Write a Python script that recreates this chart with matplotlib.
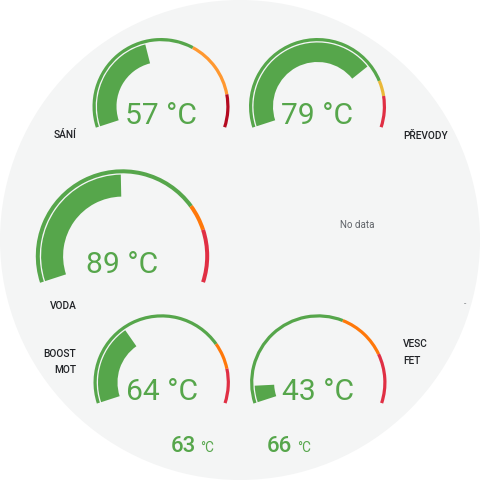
import matplotlib
matplotlib.use('Agg')
import matplotlib.pyplot as plt
from matplotlib.patches import Wedge, Circle

plt.rcParams['font.family'] = ['Roboto', 'DejaVu Sans']

# ---------------- data ----------------
gauge_labels = ['SÁNÍ', 'PŘEVODY', 'VODA', 'BOOST\nMOT', 'VESC\nFET']
gauge_values = [57, 79, 89, 64, 43]
gauge_min = [24, 20, 0, 20, 36]
gauge_max = [100, 100, 180, 150, 136]
threshold_steps = [[72, 90], [85, 90], [135, 150], [118, 132], [96, 116]]
threshold_colors = [
    ['#56A64B', '#FF9830', '#B40A20'],
    ['#56A64B', '#EAB839', '#E02F44'],
    ['#56A64B', '#FF780A', '#E02F44'],
    ['#56A64B', '#FF780A', '#E02F44'],
    ['#56A64B', '#FF780A', '#E02F44'],
]
unit = '°C'
stat_values = [63, 66]
no_data_text = 'No data'

# ---------------- layout (pixels, y down) ----------------
W = H = 480
centers = [(161, 106.5), (317.5, 106.5), (122.5, 256), (161.7, 382.5), (318.3, 382.5)]
radii = [68.5, 68.5, 86.7, 68.2, 68.2]
ring_w = [3.2, 3.2, 4.0, 3.2, 3.2]
bar_w = [19.5, 19.5, 22, 19.5, 19.5]
gap = 1.3
A0, SPAN = 198.0, 216.0

GREEN = '#56A64B'
BG = '#F4F5F5'
TXT = '#202226'

fig = plt.figure(figsize=(4.8, 4.8), dpi=100)
ax = fig.add_axes([0, 0, 1, 1])
ax.set_xlim(0, W)
ax.set_ylim(0, H)
ax.set_aspect('equal')
ax.axis('off')

def Y(y):
    return H - y

ax.add_patch(Circle((240, Y(240)), 240, color=BG, lw=0))

def ang(v, lo, hi):
    f = (v - lo) / (hi - lo)
    f = min(max(f, 0), 1)
    return A0 - SPAN * f

for i in range(len(gauge_values)):
    cx, cy = centers[i]
    c = (cx, Y(cy))
    lo, hi = gauge_min[i], gauge_max[i]
    r = radii[i]
    bounds = [lo] + threshold_steps[i] + [hi]
    for k in range(len(bounds) - 1):
        t1 = ang(bounds[k + 1], lo, hi)
        t2 = ang(bounds[k], lo, hi)
        ax.add_patch(Wedge(c, r, t1, t2, width=ring_w[i],
                           color=threshold_colors[i][k], lw=0))
    col = threshold_colors[i][0]
    for k, s in enumerate(threshold_steps[i]):
        if gauge_values[i] >= s:
            col = threshold_colors[i][k + 1]
    rb = r - ring_w[i] - gap
    ax.add_patch(Wedge(c, rb, ang(gauge_values[i], lo, hi), A0,
                       width=bar_w[i], color=col, lw=0))
    ax.text(cx, Y(cy + 17), f'{gauge_values[i]} {unit}', ha='center',
            va='baseline', fontsize=21.6, color=col)

# labels
lab_kw = dict(va='baseline', fontsize=7.3, color=TXT, fontweight='medium')
ax.text(65, Y(138.3), gauge_labels[0], ha='center', **lab_kw)
ax.text(426, Y(138.8), gauge_labels[1], ha='center', **lab_kw)
ax.text(63, Y(309.3), gauge_labels[2], ha='center', **lab_kw)
b1, b2 = gauge_labels[3].split('\n')
ax.text(76, Y(356.7), b1, ha='right', **lab_kw)
ax.text(76, Y(372.7), b2, ha='right', **lab_kw)
v1, v2 = gauge_labels[4].split('\n')
ax.text(403.3, Y(347.3), v1, ha='left', **lab_kw)
ax.text(403.3, Y(364), v2, ha='left', **lab_kw)

# no data
ax.text(357, Y(228.3), no_data_text, ha='center', va='baseline',
        fontsize=7.0, color='#5F6368')
ax.text(465, Y(306), '-', ha='center', va='baseline', fontsize=6,
        color='#5F6368')

# bottom stats
stat_x = [195.5, 292]
for x, v in zip(stat_x, stat_values):
    ax.text(x, Y(451.7), f'{v}', ha='right', va='baseline', fontsize=16,
            color=GREEN, fontweight='medium')
    ax.text(x + 5, Y(451.7), unit, ha='left', va='baseline', fontsize=9.8,
            color=GREEN)

fig.savefig('out.png', dpi=100, facecolor='white')
